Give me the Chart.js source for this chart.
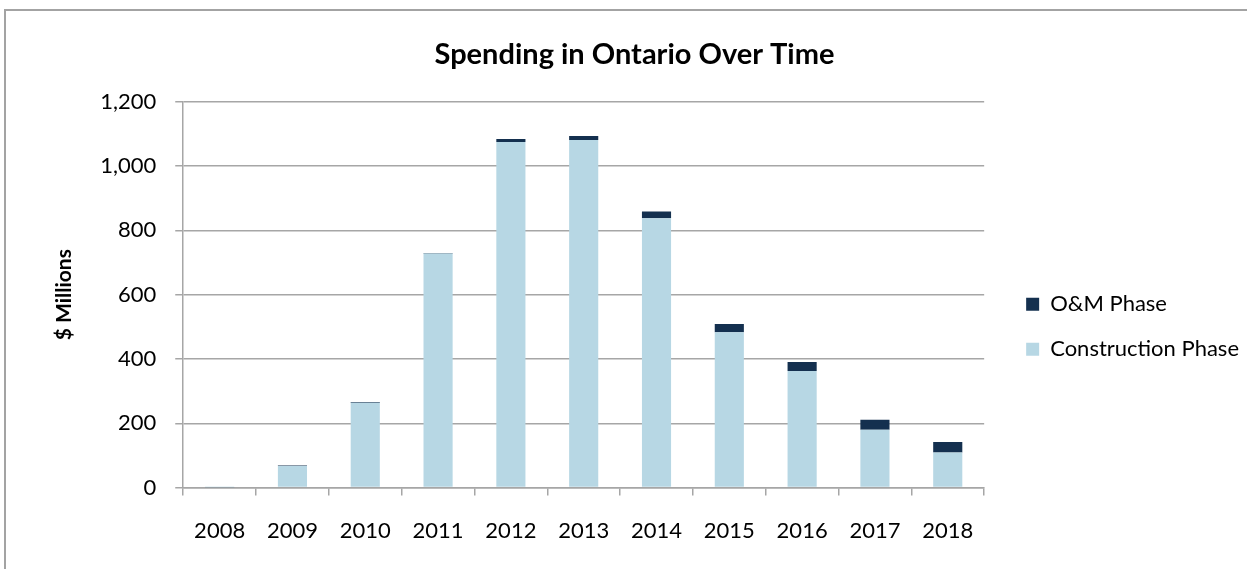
<!DOCTYPE html>
<html>
<head>
<meta charset="utf-8">
<script src="https://cdn.jsdelivr.net/npm/chart.js@4.4.1/dist/chart.umd.min.js"></script>
<style>
  html, body { margin: 0; padding: 0; background: #fff; overflow: hidden; }
  #frame { position: absolute; left: 4px; top: 9px; width: 1300px; height: 620px; border: 2px solid #a3a3a3; }
  #wrap { position: absolute; left: 0; top: 0; width: 1247px; height: 569px; }
</style>
</head>
<body>
<div id="frame"></div>
<div id="wrap"><canvas id="chart"></canvas></div>
<script>
// Dados
const anos = ['2008', '2009', '2010', '2011', '2012', '2013', '2014', '2015', '2016', '2017', '2018'];
const construcao = [1, 67, 264, 728, 1075, 1081, 838, 483, 363, 180, 109];
const operacao = [1, 2, 2, 2, 9, 13, 21, 26, 28, 31, 33];
const yTicks = [0, 200, 400, 600, 800, 1000, 1200];

const fonte = 'Lato, "Open Sans", sans-serif';
const cinza = '#a6a6a6';

// afasta a legenda um pouco do gráfico
const deslocaLegenda = {
  id: 'deslocaLegenda',
  afterLayout(chart) {
    chart.legend.left += 19;
    chart.legend.right += 19;
  }
};

new Chart(document.getElementById('chart').getContext('2d'), {
  type: 'bar',
  data: {
    labels: anos,
    datasets: [{
      label: 'Construction Phase',
      data: construcao,
      backgroundColor: '#b7d7e4',
      borderWidth: 0
    }, {
      label: 'O&M Phase',
      data: operacao,
      backgroundColor: '#14304f',
      borderWidth: 0
    }]
  },
  plugins: [deslocaLegenda],
  options: {
    responsive: true,
    maintainAspectRatio: false,
    animation: false,
    layout: { padding: { left: 39, right: 17, top: 37, bottom: 3 } },
    datasets: { bar: { categoryPercentage: 1, barPercentage: 0.4 } },
    scales: {
      x: {
        stacked: true,
        grid: { display: true, drawOnChartArea: false, drawTicks: true, tickLength: 8, color: cinza, lineWidth: 1.5, offset: true },
        border: { color: cinza, width: 1.5 },
        ticks: { color: '#000', font: { family: fonte, size: 22 }, padding: 22 }
      },
      y: {
        stacked: true,
        min: 0,
        max: 1200,
        afterBuildTicks: axis => { axis.ticks = yTicks.map(v => ({ value: v })); },
        grid: { color: cinza, lineWidth: 1.5, tickLength: 8 },
        border: { color: cinza, width: 1.5 },
        ticks: {
          color: '#000',
          font: { family: fonte, size: 22 },
          padding: 19,
          callback: v => v.toLocaleString('en-US')
        },
        title: { display: true, text: '$ Millions', color: '#000', font: { family: fonte, size: 21, weight: 'bold' }, padding: { top: 13, bottom: 4 } }
      }
    },
    plugins: {
      legend: {
        position: 'right',
        reverse: true,
        title: { display: true, text: ' ', font: { family: fonte, size: 22 }, padding: { top: 0, bottom: 24 } },
        labels: {
          color: '#000',
          font: { family: fonte, size: 22 },
          boxWidth: 13,
          boxHeight: 13,
          padding: 23
        }
      },
      title: {
        display: true,
        text: 'Spending in Ontario Over Time',
        color: '#000',
        font: { family: fonte, size: 29, weight: 'bold' },
        padding: { top: 0, bottom: 30 }
      },
      tooltip: { enabled: false }
    }
  }
});
</script>
</body>
</html>
